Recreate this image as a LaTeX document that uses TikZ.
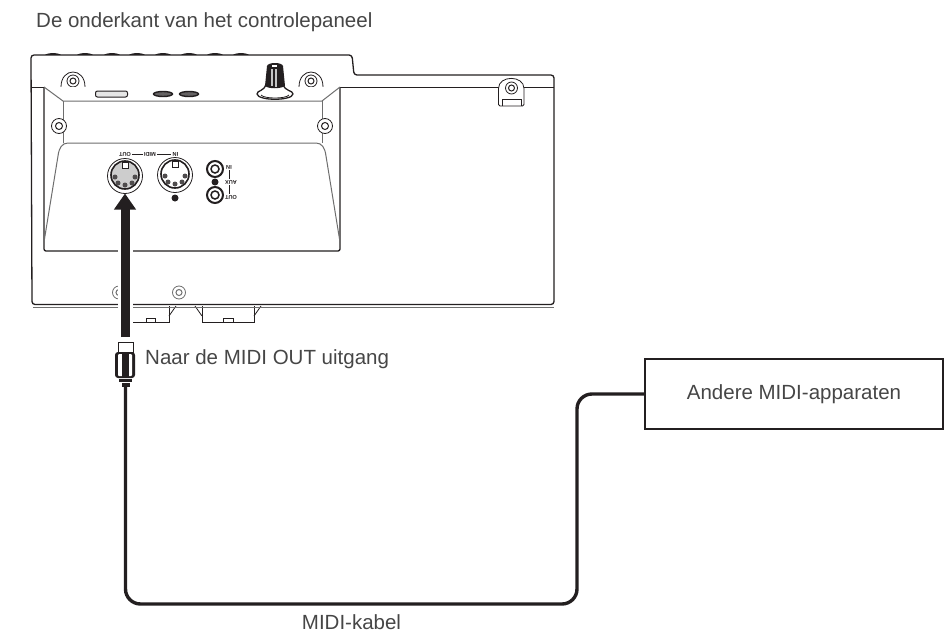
\documentclass[tikz,border=0pt]{standalone}
\usepackage{fontspec}
\setmainfont{Liberation Sans}
\usetikzlibrary{positioning, arrows.meta, shapes.geometric, shapes.misc}
\definecolor{inkdark}{RGB}{35,31,32}
\definecolor{inkgrey}{RGB}{110,110,110}
\definecolor{inkfill}{RGB}{205,205,205}
\definecolor{labelgrey}{RGB}{70,70,70}
\tikzset{
    caption/.style={font=\fontsize{20.5}{24}\selectfont, text=labelgrey, inner sep=0pt},
    paneltext/.style={font=\fontsize{5.6}{6}\selectfont\bfseries, text=inkdark, inner sep=1.5pt, outer sep=0pt, rotate=180},
    bodyline/.style={draw=inkdark, line width=1.3pt, line join=round},
    innerline/.style={draw=inkgrey, line width=1pt, line join=round},
    thinline/.style={draw=inkdark, line width=0.8pt},
    screwouter/.style={circle, draw=inkdark, fill=white, line width=0.8pt, minimum size=#1, inner sep=0pt},
    screwinner/.style={circle, draw=inkdark, fill=white, line width=1pt, minimum size=#1, inner sep=0pt},
    ballot/.style={circle, fill=inkdark, minimum size=#1, inner sep=0pt},
    midiring/.style={circle, draw=inkdark, fill=white, line width=0.8pt, minimum size=35pt, inner sep=0pt, outer sep=0pt},
    midicore/.style={circle, draw=inkdark, fill=inkfill, line width=1.6pt, minimum size=28pt, inner sep=0pt},
    pinhole/.style={circle, fill=inkdark!80, minimum size=5pt, inner sep=0pt},
    notch/.style={rectangle, draw=inkdark, fill=white, line width=0.7pt, minimum width=6pt, minimum height=6pt, inner sep=0pt},
    jackouter/.style={circle, draw=inkdark, fill=white, line width=2pt, minimum size=16pt, inner sep=0pt},
    jackinner/.style={circle, draw=inkdark, fill=white, line width=1.5pt, minimum size=8pt, inner sep=0pt},
    bigarrow/.style={-{Triangle[length=16pt,width=21pt]}, line width=9pt, color=inkdark},
    halo/.style={line width=15pt, color=white},
    cable/.style={line width=3.4pt, color=inkdark, rounded corners=15pt},
    devicebox/.style={rectangle, draw=inkdark, fill=white, line width=1.6pt, minimum width=298pt, minimum height=70pt, inner sep=0pt, outer sep=0pt, font=\fontsize{20.5}{24}\selectfont, text=labelgrey},
    plugbody/.style={rectangle, rounded corners=3pt, fill=inkdark, minimum width=20pt, minimum height=26pt, inner sep=0pt, outer sep=0pt},
    plugstripe/.style={rectangle, rounded corners=1pt, fill=white, minimum width=14pt, minimum height=22pt, inner sep=0pt},
    plugcore/.style={rectangle, fill=inkdark, minimum width=7pt, minimum height=24pt, inner sep=0pt},
    plughead/.style={rectangle, draw=inkdark, fill=white, line width=0.8pt, minimum width=15pt, minimum height=10pt, inner sep=0pt},
    plugcollar/.style={rectangle, fill=inkdark, minimum width=#1, minimum height=3pt, inner sep=0pt, outer sep=0pt}
}
\begin{document}
\begin{tikzpicture}[x=1pt, y=-1pt]
        \useasboundingbox (0,0) rectangle (945,632);
        % === Title ===
        \node[caption, anchor=west] (title) at (36,22) {De onderkant van het controlepaneel};

        % === Connector bumps on the top edge ===
        \fill[inkdark] (45,55) .. controls (47,52.5) and (59,52.5) .. (61,55);
        \fill[inkdark] (77,55) .. controls (79,52.5) and (91,52.5) .. (93,55);
        \fill[inkdark] (104,55) .. controls (106,52.5) and (118,52.5) .. (120,55);
        \fill[inkdark] (129,55) .. controls (131,52.5) and (143,52.5) .. (145,55);
        \fill[inkdark] (155,55) .. controls (157,52.5) and (169,52.5) .. (171,55);
        \fill[inkdark] (181,55) .. controls (183,52.5) and (195,52.5) .. (197,55);
        \fill[inkdark] (207,55) .. controls (209,52.5) and (221,52.5) .. (223,55);
        \fill[inkdark] (233,55) .. controls (235,52.5) and (247,52.5) .. (249,55);

        % === Feet under the body ===
        \draw[thinline] (133,322) -- (169,322) -- (169,306);
        \draw[thinline] (169,316) -- (176,306);
        \draw[thinline] (202,306) -- (202,322) -- (254,322) -- (254,306);
        \draw[thinline] (195,306) -- (202,316);
        \draw[thinline] (254,316) -- (261,306);
        \draw[thinline, fill=white] (146,322) rectangle (155,318);
        \draw[thinline, fill=white] (223,322) rectangle (233,318);

        % === Body outline ===
        \draw[bodyline, fill=white, rounded corners=3pt] (32,304.5) -- (31,55) -- (352,55) -- (354,75) -- (554,75) -- (554,304.5) -- cycle;
        \draw[innerline, line width=0.8pt] (33,307) -- (554,307);
        \draw[thinline] (31,87) -- (554,87);

        % === Screw tabs on the top ===
        \draw[thinline, fill=white] (61,87) .. controls (61,67) and (85,67) .. (85,87);
        \draw[thinline, fill=white] (299,87) .. controls (299,67) and (323,67) .. (323,87);
        \node[screwouter=12pt] (screwa) at (73,81) {};
        \node[screwinner=6pt] (screwacore) at (73,81) {};
        \node[screwouter=12pt] (screwb) at (311,81) {};
        \node[screwinner=6pt] (screwbcore) at (311,81) {};

        % === Bracket on the right ===
        \draw[thinline, fill=white, rounded corners=1.5pt] (498.5,106) -- (498.5,90) .. controls (498.5,75) and (524,75) .. (524,90) -- (524,106) -- cycle;
        \draw[thinline] (502,106) -- (502,99) -- (521,99) -- (521,106);
        \node[screwouter=12pt] (screwc) at (511.5,88) {};
        \node[screwinner=6pt] (screwccore) at (511.5,88) {};

        % === Recessed panel ===
        \draw[bodyline, fill=white, rounded corners=2pt] (44,87) -- (44,251) -- (340,251) -- (340,87);
        \draw[innerline] (44,87) -- (63,101) -- (322,101) -- (340,87);
        \draw[innerline] (63,101) -- (63,143);
        \draw[innerline] (322,101) -- (322,143);
        \draw[innerline] (44,242) -- (58,156) .. controls (59,148) and (62,143) .. (68,143) -- (316,143) .. controls (322,143) and (325,148) .. (326,156) -- (340,242);
        \node[screwouter=15pt] (screwd) at (59,126) {};
        \node[screwinner=7pt] (screwdcore) at (59,126) {};
        \node[screwouter=15pt] (screwe) at (325,126) {};
        \node[screwinner=7pt] (screwecore) at (325,126) {};

        % === Slot, ovals and knob ===
        \node[rectangle, rounded corners=2pt, draw=inkdark, fill=inkfill!50, line width=1pt, minimum width=32pt, minimum height=6pt, inner sep=0pt] (slot) at (111.5,94) {};
        \node[ellipse, draw=inkdark, fill=inkdark!70, line width=1.4pt, minimum width=19pt, minimum height=5pt, inner sep=0pt] (ovala) at (163,94) {};
        \node[ellipse, draw=inkdark, fill=inkdark!70, line width=1.4pt, minimum width=19pt, minimum height=5pt, inner sep=0pt] (ovalb) at (189,94) {};
        \draw[bodyline, fill=white] (266,84) .. controls (264,92) and (257,90) .. (257,94) .. controls (258,101) and (292,101) .. (293,94) .. controls (293,90) and (285,92) .. (283,84) -- cycle;
        \draw[thinline, fill=white] (261,95) .. controls (264,99) and (286,99) .. (289,95);
        \fill[inkdark] (267,66) .. controls (268,62) and (282,62) .. (283,66) -- (285,86) .. controls (280,89) and (269,89) .. (265,86) -- cycle;
        \fill[inkgrey!40] (271,69) rectangle (273,86);
        \fill[inkgrey!40] (275,69) rectangle (277,87);
        \fill[white] (272,65) rectangle (277,66.5);

        % === Bottom screws ===
        \node[screwouter=13pt, draw=inkgrey] (screwf) at (119,292.5) {};
        \node[screwinner=6pt, draw=inkgrey] (screwfcore) at (119,292.5) {};
        \node[screwouter=13pt, draw=inkgrey] (screwg) at (179,292.5) {};
        \node[screwinner=6pt, draw=inkgrey] (screwgcore) at (179,292.5) {};

        % === MIDI OUT port ===
        \node[midiring] (midiout) at (125,176) {};
        \node[midicore] (midioutcore) at (125,175) {};
        \node[notch] (notcha) at (125,165) {};
        \node[pinhole] (pina1) at (115,177) {};
        \node[pinhole] (pina2) at (118,183) {};
        \node[pinhole] (pina3) at (125,185) {};
        \node[pinhole] (pina4) at (132,183) {};
        \node[pinhole] (pina5) at (135,177) {};

        % === MIDI IN port ===
        \node[midiring] (midiin) at (175,175) {};
        \node[midicore, fill=white] (midiincore) at (175,174) {};
        \node[notch] (notchb) at (175,164) {};
        \node[pinhole] (pinb1) at (165,176) {};
        \node[pinhole] (pinb2) at (168,182) {};
        \node[pinhole] (pinb3) at (175,184) {};
        \node[pinhole] (pinb4) at (182,182) {};
        \node[pinhole] (pinb5) at (185,176) {};
        \node[ballot=7pt] (dotmidi) at (175,198) {};

        % === AUX jacks ===
        \node[jackouter] (auxin) at (215,169) {};
        \node[jackinner] (auxincore) at (215,169) {};
        \node[jackouter] (auxout) at (215,195) {};
        \node[jackinner] (auxoutcore) at (215,195) {};
        \node[ballot=7pt] (dotaux) at (215,182) {};

        % === Panel labels, printed upside down ===
        \node[paneltext] (lblout) at (125,154.5) {OUT};
        \node[paneltext] (lblmidi) at (150,154.5) {MIDI};
        \node[paneltext] (lblin) at (175.5,154.5) {IN};
        \node[paneltext] (lblauxin) at (229,167) {IN};
        \node[paneltext] (lblaux) at (231,182) {AUX};
        \node[paneltext] (lblauxout) at (231,197) {OUT};
        \draw[thinline] (lblout.west) -- (lblmidi.east);
        \draw[thinline] (lblmidi.west) -- (lblin.east);
        \draw[thinline] (lblauxin.north) -- (lblauxin.north |- lblaux.south);
        \draw[thinline] (lblauxin.north |- lblaux.north) -- (lblauxin.north |- lblauxout.south);

        % === Plug ===
        \node[plughead] (plugtop) at (125.5,347) {};
        \node[plugbody] (plug) at (125,365) {};
        \node[plugstripe] (plugmark) at (125,365) {};
        \node[plugcore] (plugmarkcore) at (125,365) {};
        \node[plugcollar=13pt] (plugneck) at (125.5,380.5) {};
        \node[plugcollar=8pt, minimum height=4pt] (plugend) at (125.5,385) {};

        % === Arrow into the port ===
        \coordinate (arrowend) at (125,337);
        \coordinate (halotop) at (125,198);
        \draw[halo] (arrowend) -- (halotop);
        \draw[bigarrow] (arrowend) -- (midiout.south);

        % === Other device and cable ===
        \node[devicebox] (device) at (794,394) {Andere MIDI-apparaten};
        \coordinate (cablebend) at (577,604);
        \draw[cable] (plugend.south) |- (cablebend) |- (device.west);

        % === Labels ===
        \node[caption, anchor=west] (lblport) at (145,359) {Naar de MIDI OUT uitgang};
        \node[caption] (lblcable) at (351.5,622) {MIDI-kabel};
\end{tikzpicture}
\end{document}
